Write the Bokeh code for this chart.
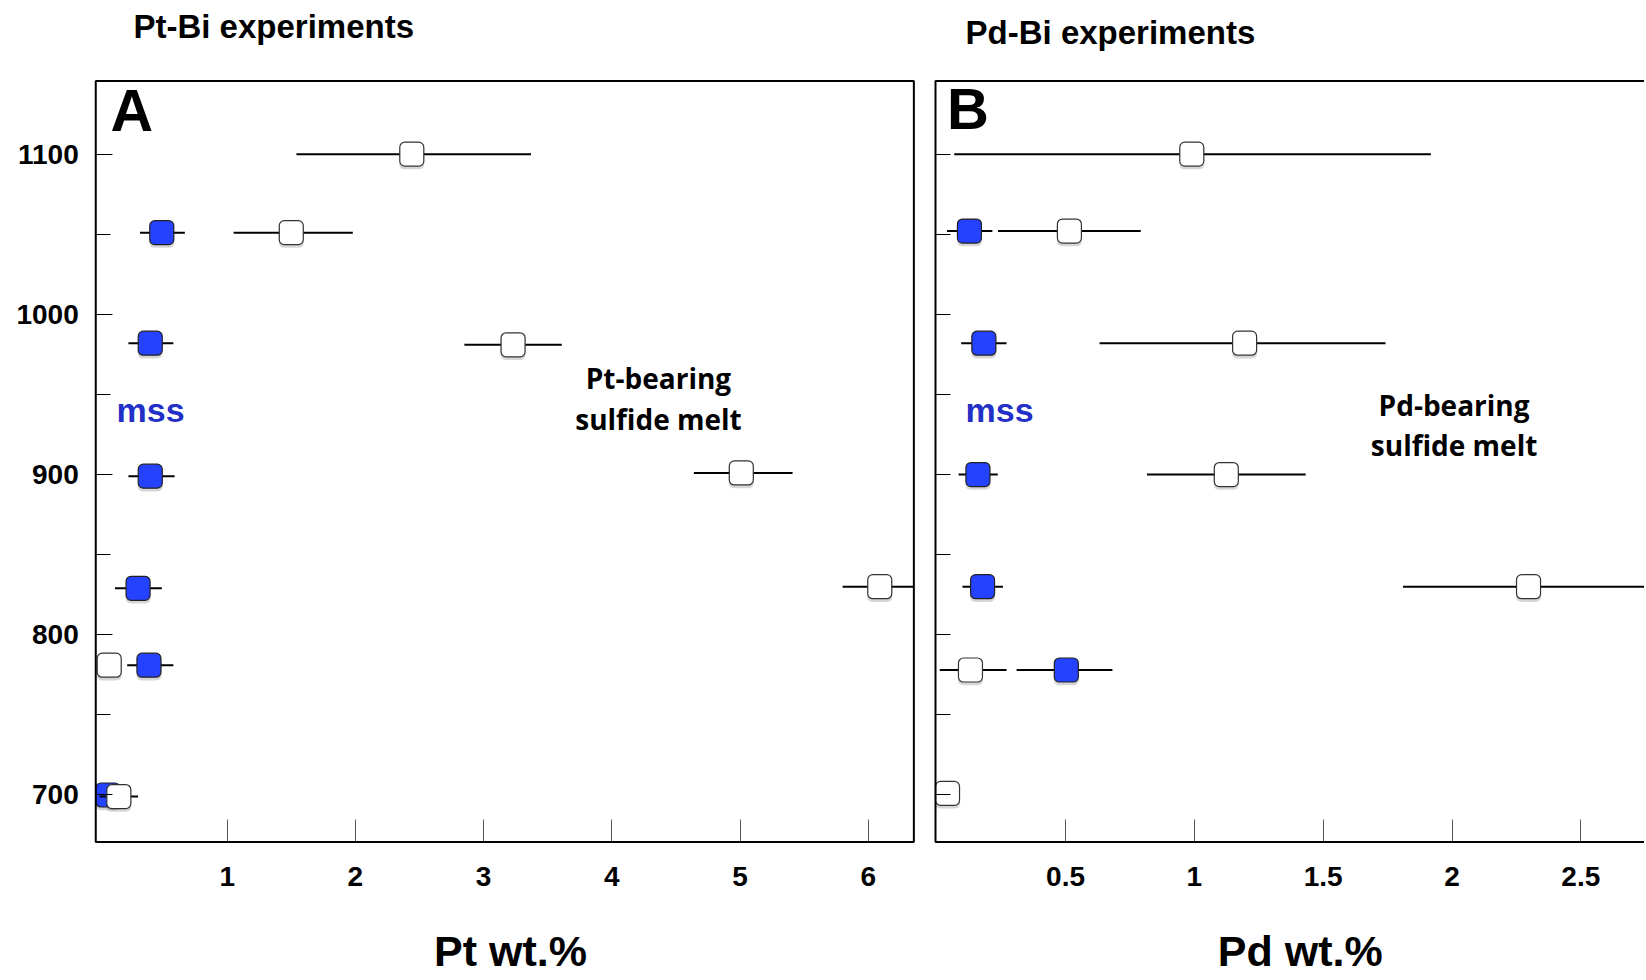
from bokeh.plotting import figure
from bokeh.models import (FixedTicker, LinearAxis, Label, ColumnDataSource, Range1d,
                          BoxAnnotation)
from bokeh.layouts import row
from bokeh.embed import file_html
from bokeh.resources import INLINE

# ---------------- data ----------------
# Panel A: Pt-Bi experiments, Pt wt.% vs temperature (deg C)
pt_mss_T = [1051, 982, 899, 829, 781, 700]
pt_mss_val = [0.49, 0.40, 0.40, 0.305, 0.39, 0.07]
pt_mss_lo = [0.32, 0.23, 0.23, 0.125, 0.22, 0.07]
pt_mss_hi = [0.67, 0.58, 0.59, 0.49, 0.58, 0.07]

pt_melt_T = [1100, 1051, 981, 901, 830, 781, 699]
pt_melt_val = [2.44, 1.50, 3.23, 5.01, 6.09, 0.08, 0.155]
pt_melt_lo = [1.54, 1.05, 2.85, 4.64, 5.80, 0.08, 0.005]
pt_melt_hi = [3.37, 1.98, 3.61, 5.41, 6.35, 0.08, 0.305]

# Panel B: Pd-Bi experiments, Pd wt.% vs temperature (deg C)
pd_mss_T = [1052, 982, 900, 830, 778]
pd_mss_val = [0.127, 0.183, 0.16, 0.178, 0.503]
pd_mss_lo = [0.04, 0.095, 0.085, 0.10, 0.31]
pd_mss_hi = [0.216, 0.271, 0.237, 0.257, 0.682]

pd_melt_T = [1100, 1052, 982, 900, 830, 778, 701]
pd_melt_val = [0.99, 0.515, 1.195, 1.124, 2.297, 0.131, 0.042]
pd_melt_lo = [0.068, 0.238, 0.632, 0.816, 1.81, 0.012, 0.042]
pd_melt_hi = [1.918, 0.792, 1.742, 1.432, 2.78, 0.271, 0.042]

temp_ticks = [700, 800, 900, 1000, 1100]
temp_minor = [750, 850, 950, 1050]
pt_ticks = [1, 2, 3, 4, 5, 6]
pd_ticks = [0.5, 1, 1.5, 2, 2.5]
pd_tick_labels = ["0.5", "1", "1.5", "2", "2.5"]

# ---------------- styling / geometry ----------------
FONT = "Liberation Sans"
MSS_BLUE = "#2442FF"
MSS_TEXT = "#2230C8"
H = 978
PX_PER_DEG = 1.602              # vertical pixels per degree
Y_VIEW = (585.45, 1195.9)       # whole canvas height in temperature units
BOX_Y = (670.6, 1145.6)         # plotted box (frame) in temperature units
A_VIEW = (-0.768, 6.439)
A_BOX = (-0.025, 6.356)
B_VIEW = (-0.0474, 2.7471)
B_BOX = (-0.0047, 5.0)          # right edge lies beyond the picture


def base_fig(width, xr):
    p = figure(width=width, height=H, x_range=Range1d(*xr), y_range=Range1d(*Y_VIEW),
               output_backend="svg", toolbar_location=None,
               x_axis_type=None, y_axis_type=None,
               min_border_left=0, min_border_right=0,
               min_border_top=0, min_border_bottom=0,
               background_fill_color="white", border_fill_color="white")
    p.grid.visible = False
    p.outline_line_color = None
    return p


def x_axis(ticks, loc):
    ax = LinearAxis(fixed_location=loc, axis_line_color=None,
                    ticker=FixedTicker(ticks=ticks))
    ax.major_tick_in = 23
    ax.major_tick_out = 0
    ax.minor_tick_in = 0
    ax.minor_tick_out = 0
    ax.major_tick_line_color = "#555555"
    ax.major_tick_line_width = 1
    ax.major_label_standoff = 25
    ax.major_label_text_font = FONT
    ax.major_label_text_font_size = "28px"
    ax.major_label_text_font_style = "bold"
    ax.major_label_text_color = "black"
    return ax


def y_axis(loc, tick_in, minor_in):
    ax = LinearAxis(fixed_location=loc, axis_line_color=None,
                    ticker=FixedTicker(ticks=temp_ticks, minor_ticks=temp_minor))
    ax.major_tick_in = tick_in
    ax.major_tick_out = 0
    ax.minor_tick_in = minor_in
    ax.minor_tick_out = 0
    ax.major_tick_line_color = "black"
    ax.minor_tick_line_color = "black"
    ax.major_tick_line_width = 1
    ax.minor_tick_line_width = 1
    return ax


def draw_series(p, T, val, lo, hi, fill, line):
    src = ColumnDataSource(dict(T=T, val=val, lo=lo, hi=hi,
                                Ts=[t - 1.7 for t in T]))
    p.segment(x0="lo", y0="T", x1="hi", y1="T", source=src,
              line_color="black", line_width=2)
    p.rect(x="val", y="Ts", width=25, height=25, width_units="screen",
           height_units="screen", source=src, fill_color="black",
           fill_alpha=0.16, line_color=None, border_radius=5)
    p.rect(x="val", y="T", width=24, height=24, width_units="screen",
           height_units="screen", source=src, fill_color=fill,
           line_color=line, line_width=1.2, border_radius=5)


def label(p, x, y, text, px, font=FONT, color="black", align="left"):
    # y is the wanted baseline; lift by the renderer's baseline offset
    y_adj = y + 0.37 * px / PX_PER_DEG
    p.add_layout(Label(x=x, y=y_adj, text=text, text_font=font,
                       text_font_size=f"{px}px",
                       text_font_style="bold", text_color=color,
                       text_align=align, text_baseline="alphabetic"))


# ---------------- Panel A ----------------
pA = base_fig(924, A_VIEW)

axA_x = x_axis(pt_ticks, BOX_Y[0])
pA.add_layout(axA_x, "below")

axA_y = y_axis(A_BOX[0], 17, 15)
axA_y.major_label_standoff = 17
axA_y.major_label_text_font = FONT
axA_y.major_label_text_font_size = "28px"
axA_y.major_label_text_font_style = "bold"
axA_y.major_label_text_color = "black"
pA.add_layout(axA_y, "left")

draw_series(pA, pt_mss_T, pt_mss_val, pt_mss_lo, pt_mss_hi, MSS_BLUE, "#222222")
draw_series(pA, pt_melt_T, pt_melt_val, pt_melt_lo, pt_melt_hi, "white", "#333333")

pA.add_layout(BoxAnnotation(left=A_BOX[0], right=A_BOX[1], bottom=BOX_Y[0], top=BOX_Y[1],
                            fill_alpha=0, line_color="black", line_width=2, line_alpha=1))

label(pA, 0.269, 1172.0, "Pt-Bi experiments", 33)
label(pA, 0.09, 1113.1, "A", 59)
label(pA, 0.137, 932.7, "mss", 34, color=MSS_TEXT)
label(pA, 4.364, 953.6, "Pt-bearing", 28, font="Open Sans", align="center")
label(pA, 4.364, 928.2, "sulfide melt", 28, font="Open Sans", align="center")
label(pA, 3.21, 592.9, "Pt wt.%", 43, align="center")

# ---------------- Panel B ----------------
pB = base_fig(720, B_VIEW)

axB_x = x_axis(pd_ticks, BOX_Y[0])
axB_x.major_label_overrides = {t: s for t, s in zip(pd_ticks, pd_tick_labels)}
pB.add_layout(axB_x, "below")

axB_y = y_axis(B_BOX[0], 15, 15)
axB_y.major_label_standoff = 0
axB_y.major_label_text_font_size = "0px"
axB_y.major_label_overrides = {t: "" for t in temp_ticks}
pB.add_layout(axB_y, "left")

draw_series(pB, pd_mss_T, pd_mss_val, pd_mss_lo, pd_mss_hi, MSS_BLUE, "#222222")
draw_series(pB, pd_melt_T, pd_melt_val, pd_melt_lo, pd_melt_hi, "white", "#333333")

pB.add_layout(BoxAnnotation(left=B_BOX[0], right=B_BOX[1], bottom=BOX_Y[0], top=BOX_Y[1],
                            fill_alpha=0, line_color="black", line_width=2, line_alpha=1))

label(pB, 0.112, 1168.3, "Pd-Bi experiments", 33)
label(pB, 0.04, 1114.8, "B", 58)
label(pB, 0.112, 932.7, "mss", 34, color=MSS_TEXT)
label(pB, 2.008, 936.9, "Pd-bearing", 28, font="Open Sans", align="center")
label(pB, 2.008, 912.0, "sulfide melt", 28, font="Open Sans", align="center")
label(pB, 1.411, 592.5, "Pd wt.%", 43, align="center")

layout = row(pA, pB)
open("out.html", "w").write(file_html(layout, INLINE))
